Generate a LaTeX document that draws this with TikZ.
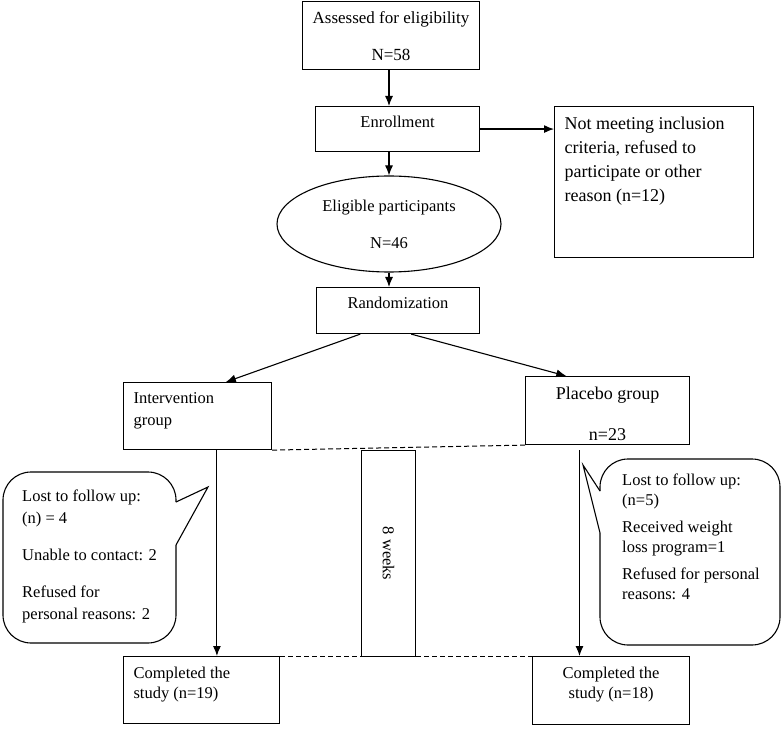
\documentclass[tikz,border=0pt]{standalone}
\usepackage{fontspec}
\setmainfont{Liberation Serif}
\usetikzlibrary{arrows.meta, positioning, shapes.geometric, calc}
\newcommand{\flowtext}[3]{\parbox[c][#1][t]{#2}{\vspace*{10pt}#3}}

\begin{document}
\begin{tikzpicture}[
  x=1pt, y=-1pt,
  font=\fontsize{16.5pt}{20pt}\selectfont,
  box/.style={rectangle, draw, line width=1.1pt, inner xsep=10pt,
              inner ysep=0pt, anchor=north west},
  bigtext/.style={font=\fontsize{18pt}{24pt}\selectfont},
  oval/.style={ellipse, draw, line width=1.1pt, minimum width=224pt,
               minimum height=96pt, inner sep=0pt, align=center},
  notetext/.style={anchor=north west, inner sep=0pt, align=left},
  bubble/.style={line width=1.1pt, rounded corners=28pt},
  arrow/.style={-{Latex[length=10pt,width=8pt]}, line width=1.1pt},
  timeline/.style={dash pattern=on 5pt off 3pt, line width=1pt}
]
  \useasboundingbox (0,0) rectangle (782,743);

  \node[box] (assess) at (302,1) {\flowtext{68pt}{157pt}{\centering
    \fontsize{17pt}{20pt}\selectfont Assessed for eligibility\\[17pt] N=58}};
  \node[box] (enroll) at (315,106) {\flowtext{45pt}{144pt}{\centering Enrollment}};
  \node[box, bigtext] (notmeet) at (554,106) {\flowtext{151pt}{179pt}{\raggedright
    Not meeting inclusion\\ criteria, refused to\\ participate or other\\ reason (n=12)}};
  \node[oval] (elig) at (389,224) {Eligible participants\\[17pt] N=46};
  \node[box] (rand) at (316,287) {\flowtext{46pt}{143pt}{\centering Randomization}};
  \node[box] (interv) at (123,382) {\flowtext{67pt}{128pt}{\raggedright Intervention\\[2pt] group}};
  \node[box, bigtext] (placebo) at (525,376) {\flowtext{68pt}{144pt}{\centering
    Placebo group\\[17pt] n=23}};
  \node[box] (compA) at (123,656) {\flowtext{67pt}{136pt}{\raggedright Completed the\\ study (n=19)}};
  \node[box] (compB) at (532,656) {\flowtext{68pt}{137pt}{\centering Completed the\\ study (n=18)}};
  \node[box, inner xsep=0pt, minimum width=54pt, minimum height=206pt] (weeks) at (361,450)
    {\rotatebox{-90}{8 weeks}};

  % loss to follow up
  \draw[bubble] (176,545) -- (176,643) -- (3,643) -- (3,472) -- (176,472) -- (176,502);
  \draw[line width=1.1pt] (176,502) -- (208,487) -- (176,545);
  \node[notetext, font=\fontsize{16.5pt}{22pt}\selectfont] (lostA) at (22,490)
    {Lost to follow up:\\ (n) = 4\\[15pt] Unable to contact: 2\\[15pt] Refused for\\ personal reasons: 2};
  \draw[bubble] (600,533) -- (600,645) -- (780,645) -- (780,459) -- (600,459) -- (600,491);
  \draw[line width=1.1pt] (600,491) -- (583,465) -- (600,533);
  \node[notetext] (lostB) at (622,474)
    {Lost to follow up:\\ (n=5)\\[7pt] Received weight\\ loss program=1\\[7pt] Refused for personal\\ reasons: 4};

  \draw[arrow] (assess.south -| elig.center) -- (enroll.north -| elig.center);
  \draw[arrow] (enroll.east) -- (enroll.east -| notmeet.west);
  \draw[arrow] (enroll.south -| elig.north) -- (elig.north);
  \draw[arrow] (elig.south) -- (elig.south |- rand.north);
  \draw[arrow] ($(rand.south west)!0.27!(rand.south east)$) -- ($(interv.north west)!0.69!(interv.north east)$);
  \draw[arrow] ($(rand.south west)!0.58!(rand.south east)$) -- ($(placebo.north west)!0.25!(placebo.north east)$);

  \coordinate (downA) at ($(interv.south west)!0.63!(interv.south east)$);
  \coordinate (downB) at ($(placebo.south west)!0.33!(placebo.south east)$);
  \draw[arrow] (downA) -- (downA |- compA.north);
  \draw[arrow, shorten <=5pt] (downB) -- (downB |- compB.north);

  % study period
  \draw[timeline] (interv.south east) -- (placebo.south west);
  \draw[timeline] (compA.north east) -- (compB.north west);
\end{tikzpicture}
\end{document}
